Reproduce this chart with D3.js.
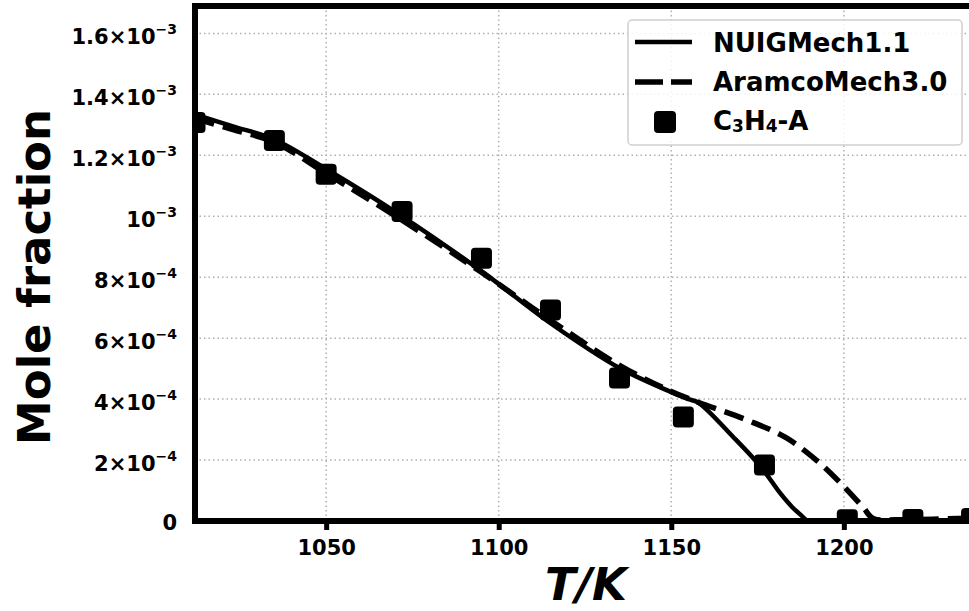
<!DOCTYPE html>
<html>
<head>
<meta charset="utf-8">
<script src="https://cdn.jsdelivr.net/npm/d3@7"></script>
<style>
  html, body { margin: 0; padding: 0; background: #fff; }
  svg { display: block; font-family: "DejaVu Sans", sans-serif; font-weight: bold; }
</style>
</head>
<body>
<svg id="chart" width="969" height="611"></svg>
<script>
// ---- data ----
const seriesNames = ["NUIGMech1.1", "AramcoMech3.0", "C3H4-A"];

const nuigT = [1012, 1023, 1035, 1050, 1072, 1095, 1115, 1135, 1150, 1155, 1158, 1168, 1176, 1181.5, 1185, 1187.5, 1189.6, 1200, 1238];
const nuigY = [1.334e-3, 1.295e-3, 1.252e-3, 1.155e-3, 1.000e-3, 0.820e-3, 0.649e-3, 0.502e-3, 0.423e-3, 0.400e-3, 0.387e-3, 0.275e-3, 0.177e-3, 0.092e-3, 0.046e-3, 0.020e-3, 0, 0, 0];

const aramcoT = [1012, 1023, 1035, 1050, 1072, 1095, 1115, 1135, 1150, 1158, 1172, 1183, 1192, 1199, 1205.5, 1208.5, 1215, 1238];
const aramcoY = [1.321e-3, 1.284e-3, 1.243e-3, 1.141e-3, 0.987e-3, 0.816e-3, 0.659e-3, 0.511e-3, 0.425e-3, 0.389e-3, 0.331e-3, 0.275e-3, 0.200e-3, 0.125e-3, 0.046e-3, 0.008e-3, 0.004e-3, 0.010e-3];

const expT = [1012, 1035, 1050, 1072, 1095, 1115, 1135, 1153.5, 1177, 1201, 1220, 1237];
const expY = [1.308e-3, 1.249e-3, 1.138e-3, 1.016e-3, 0.862e-3, 0.692e-3, 0.469e-3, 0.341e-3, 0.184e-3, 0.004e-3, 0.005e-3, 0.008e-3];

const xTicks = [1050, 1100, 1150, 1200];
const yTicks = [0, 2e-4, 4e-4, 6e-4, 8e-4, 1e-3, 1.2e-3, 1.4e-3, 1.6e-3];
const yTickLabels = ["0", "2×10^−4", "4×10^−4", "6×10^−4", "8×10^−4", "10^−3", "1.2×10^−3", "1.4×10^−3", "1.6×10^−3"];

const xDomain = [1012, 1238];
const yDomain = [0, 1.69e-3];

// ---- layout ----
const L = 195, R = 975, T = 6, B = 521;
const svg = d3.select("#chart");
const x = d3.scaleLinear().domain(xDomain).range([L, R]);
const y = d3.scaleLinear().domain(yDomain).range([B, T]);

// grid
const grid = svg.append("g");
grid.selectAll("line.gx").data(xTicks).join("line")
  .attr("x1", d => x(d)).attr("x2", d => x(d)).attr("y1", T).attr("y2", B)
  .attr("stroke", "#b0b0b0").attr("stroke-width", 1.5).attr("stroke-dasharray", "1.5,3");
grid.selectAll("line.gy").data(yTicks.filter(d => d > 0)).join("line")
  .attr("x1", L).attr("x2", R).attr("y1", d => y(d)).attr("y2", d => y(d))
  .attr("stroke", "#b0b0b0").attr("stroke-width", 1.5).attr("stroke-dasharray", "1.5,3");

// clip
svg.append("defs").append("clipPath").attr("id", "plotclip")
  .append("rect").attr("x", L).attr("y", T).attr("width", R - L).attr("height", B - T);

const dataG = svg.append("g").attr("clip-path", "url(#plotclip)");
const line = d3.line().x(d => x(d[0])).y(d => y(d[1])).curve(d3.curveCatmullRom.alpha(0.5));

dataG.append("path").datum(nuigT.map((t, i) => [t, nuigY[i]]))
  .attr("d", line).attr("fill", "none").attr("stroke", "#000").attr("stroke-width", 4.5);
dataG.append("path").datum(aramcoT.map((t, i) => [t, aramcoY[i]]))
  .attr("d", line).attr("fill", "none").attr("stroke", "#000").attr("stroke-width", 5.5)
  .attr("stroke-dasharray", "20,9");

const ms = 21;
dataG.selectAll("rect.pt").data(expT.map((t, i) => [t, expY[i]])).join("rect")
  .attr("x", d => x(d[0]) - ms / 2).attr("y", d => y(d[1]) - ms / 2)
  .attr("width", ms).attr("height", ms).attr("rx", 4).attr("fill", "#000");

// x axis
const xAxis = svg.append("g").attr("transform", `translate(0,${B})`)
  .call(d3.axisBottom(x).tickValues(xTicks).tickSize(9).tickFormat(d3.format("d")));
xAxis.select(".domain").remove();
xAxis.selectAll(".tick line").attr("stroke", "#000").attr("stroke-width", 5);
xAxis.selectAll(".tick text").attr("y", 34).attr("dy", 0)
  .attr("font-size", 21).attr("font-family", "DejaVu Sans").attr("font-weight", "bold").attr("fill", "#000");

// y axis
const yAxis = svg.append("g").attr("transform", `translate(${L},0)`)
  .call(d3.axisLeft(y).tickValues(yTicks).tickSize(0).tickFormat((d, i) => yTickLabels[i]));
yAxis.select(".domain").remove();
yAxis.selectAll(".tick text").each(function(d, i) {
  const t = d3.select(this);
  const lab = yTickLabels[i];
  t.text(null).attr("x", -18).attr("dy", 0)
    .attr("font-size", 21).attr("font-family", "DejaVu Sans").attr("font-weight", "bold").attr("fill", "#000")
    .attr("text-anchor", "end");
  if (lab.includes("^")) {
    const [base, ex] = lab.split("^");
    t.attr("y", 10);
    t.append("tspan").text(base);
    t.append("tspan").attr("font-size", 14).attr("dy", -10).text(ex);
  } else {
    t.attr("y", 8).text(lab);
  }
});

// spines
svg.append("rect").attr("x", L).attr("y", T).attr("width", R - L).attr("height", B - T)
  .attr("fill", "none").attr("stroke", "#000").attr("stroke-width", 6);

// axis labels
svg.append("text").attr("transform", "translate(50,277) rotate(-90)")
  .attr("text-anchor", "middle").attr("font-size", 45).attr("font-weight", "bold")
  .text("Mole fraction");
svg.append("text").attr("x", 586).attr("y", 600)
  .attr("text-anchor", "middle").attr("font-size", 45).attr("font-weight", "bold")
  .attr("font-style", "italic").text("T/K");

// legend
const lg = svg.append("g");
lg.append("rect").attr("x", 628).attr("y", 20).attr("width", 334).attr("height", 125).attr("rx", 4)
  .attr("fill", "#fff").attr("fill-opacity", 0.85).attr("stroke", "#d0d0d0").attr("stroke-width", 1.5);
lg.append("line").attr("x1", 635).attr("x2", 692).attr("y1", 42).attr("y2", 42)
  .attr("stroke", "#000").attr("stroke-width", 4.5);
lg.append("line").attr("x1", 635).attr("x2", 692).attr("y1", 82).attr("y2", 82)
  .attr("stroke", "#000").attr("stroke-width", 5.5).attr("stroke-dasharray", "28,8");
lg.append("rect").attr("x", 665 - 11).attr("y", 122 - 11).attr("width", 22).attr("height", 22)
  .attr("rx", 4).attr("fill", "#000");
lg.append("text").attr("x", 713).attr("y", 52).attr("font-size", 26).text(seriesNames[0]);
lg.append("text").attr("x", 713).attr("y", 91).attr("font-size", 26).text(seriesNames[1]);
const t3 = lg.append("text").attr("x", 713).attr("y", 130).attr("font-size", 26);
t3.append("tspan").text("C");
t3.append("tspan").attr("font-size", 17).attr("dy", 2).text("3");
t3.append("tspan").attr("dy", -2).text("H");
t3.append("tspan").attr("font-size", 17).attr("dy", 2).text("4");
t3.append("tspan").attr("dy", -2).text("-A");
</script>
</body>
</html>
